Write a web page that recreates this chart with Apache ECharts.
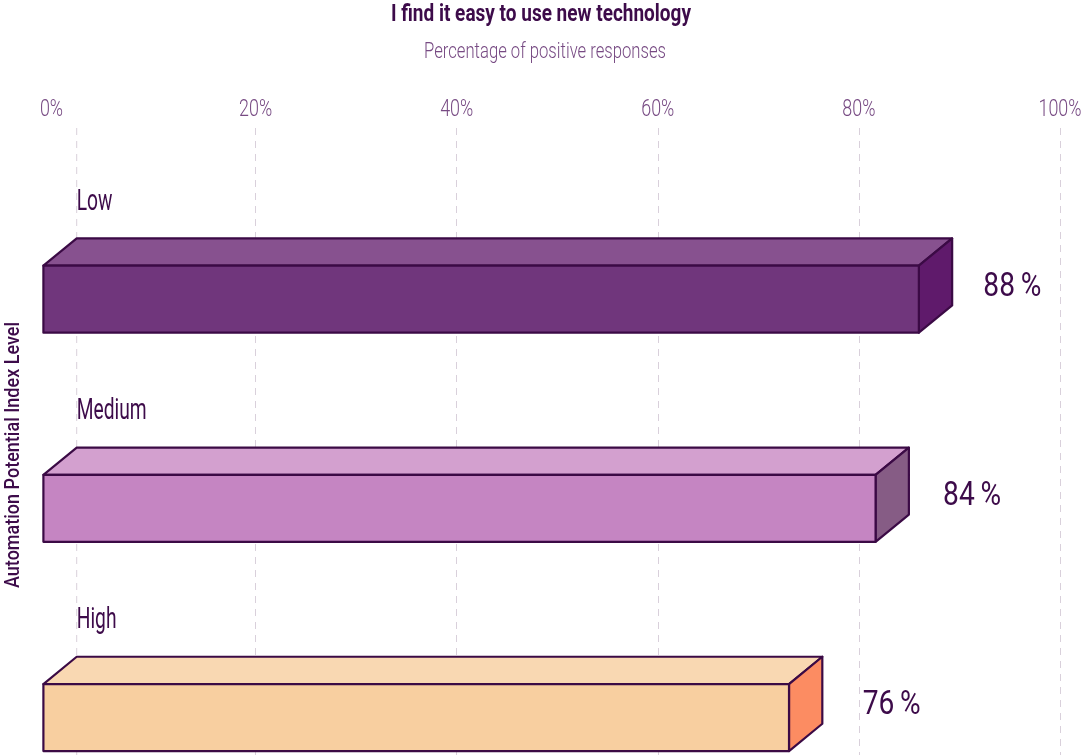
<!DOCTYPE html>
<html>
<head>
<meta charset="utf-8">
<script src="https://cdn.jsdelivr.net/npm/echarts@6/dist/echarts.min.js"></script>
<style>
html,body{margin:0;padding:0;background:#fff;}
#c{width:1082px;height:755px;}
</style>
</head>
<body>
<div id="c"></div>
<script>
// ---- data ----
const categories = ['Low', 'Medium', 'High'];
const values = [88, 84, 76];
const tickValues = [0, 20, 40, 60, 80, 100];
const titleText = 'I find it easy to use new technology';
const subtitleText = 'Percentage of positive responses';
const yAxisTitle = 'Automation Potential Index Level';

// ---- styles ----
const FONT = "Roboto, 'Noto Sans', sans-serif";
const DARK = '#3d0b4a';
const LIGHT = '#774a83';
const STROKE = '#3b0a45';
const GRIDC = '#d9d0db';
const palette = [
  { front: '#70367c', top: '#87518f', side: '#5f1a6b' },
  { front: '#c585c2', top: '#d3a0cf', side: '#865c85' },
  { front: '#f8cfa0', top: '#f9d8b2', side: '#fc8c62' }
];
const DX = 33.3, DY = 27.3, FRONT_H = 67;

// condensed look: horizontal scale so Roboto matches narrow reference lettering
const mctx = document.createElement('canvas').getContext('2d');
function fitScale(text, weight, size, target) {
  mctx.font = weight + ' ' + size + 'px ' + FONT;
  const w = mctx.measureText(text).width;
  return w > 0 ? target / w : 0.75;
}
const S_TITLE = fitScale(titleText, 'bold', 23, 300);
const S_SUB = fitScale(subtitleText, '300', 22.5, 242);
const S_YT = fitScale(yAxisTitle, '500', 21, 266);
const S_TICK = fitScale('100%', '300', 23.5, 43);
const S_CAT = fitScale('Medium', 'normal', 29, 70);
const S_VAL = fitScale('88\u2009%', 'normal', 34, 58);

const chart = echarts.init(document.getElementById('c'), null, { renderer: 'canvas' });

function visX(v) {
  let p;
  try { p = chart.convertToPixel({ xAxisIndex: 0 }, v); } catch (e) { p = NaN; }
  if (typeof p !== 'number' || isNaN(p)) p = 54.5 + v * 10.055;
  return p;
}

const option = {
  animation: false,
  backgroundColor: '#ffffff',
  graphic: [
    {
      type: 'text', x: 541, y: 15, scaleX: S_TITLE,
      style: { text: titleText, fontFamily: FONT, fontSize: 23, fontWeight: 'bold', fill: DARK, align: 'center', verticalAlign: 'middle' }
    },
    {
      type: 'text', x: 545, y: 52, scaleX: S_SUB,
      style: { text: subtitleText, fontFamily: FONT, fontSize: 22.5, fontWeight: 300, fill: LIGHT, align: 'center', verticalAlign: 'middle' }
    },
    {
      type: 'text', x: 14, y: 455, rotation: Math.PI / 2, scaleX: S_YT,
      style: { text: yAxisTitle, fontFamily: FONT, fontSize: 21, fontWeight: 500, fill: DARK, align: 'center', verticalAlign: 'middle' }
    }
  ],
  grid: [
    { left: 54.5, right: 22, top: 128, bottom: 0 },
    { left: 0, right: 0, top: 194.6, bottom: 0 }
  ],
  xAxis: [
    {
      gridIndex: 0, type: 'value', position: 'top', min: 0, max: 100, interval: 20,
      axisLine: { show: false }, axisTick: { show: false }, axisLabel: { show: false },
      splitLine: { show: true, showMinLine: false, lineStyle: { type: [7, 6], color: GRIDC, width: 1 } }
    },
    { gridIndex: 1, type: 'value', min: 0, max: 100, show: false }
  ],
  yAxis: [
    { gridIndex: 0, type: 'value', min: 0, max: 1, show: false },
    // category index axis: one category per 209.2px band, first band centred at 299px
    { gridIndex: 1, type: 'value', inverse: true, min: -0.5, max: 2.179, show: false }
  ],
  series: [
    {
      type: 'custom',
      xAxisIndex: 0, yAxisIndex: 0,
      clip: false,
      silent: true,
      data: tickValues.map(t => [t, 1]),
      renderItem: function (params, api) {
        const t = api.value(0);
        const p = api.coord([t, 1]);
        return {
          type: 'text', x: p[0] - (t === 0 ? 3 : 0), y: 110, scaleX: S_TICK,
          style: { text: t + '%', fontFamily: FONT, fontSize: 23.5, fontWeight: 300, fill: LIGHT, align: 'center', verticalAlign: 'middle' }
        };
      }
    },
    {
      type: 'custom',
      xAxisIndex: 1, yAxisIndex: 1,
      clip: false,
      data: values.map((v, i) => [v, i]),
      encode: { x: 0, y: 1 },
      renderItem: function (params, api) {
        const v = api.value(0);
        const idx = api.value(1);
        const pt = api.coord([v, idx]);
        const backEnd = pt[0];
        const cy = pt[1];
        const backStart = visX(0) + 22.2;
        const frontTop = cy - FRONT_H / 2;
        const frontBottom = cy + FRONT_H / 2;
        const c = palette[idx % palette.length];
        const lw = { stroke: STROKE, lineWidth: 2.2, lineJoin: 'round' };
        const children = [];
        if (params.dataIndex === 0) {
          children.push({
            type: 'line',
            shape: { x1: backStart, y1: 128, x2: backStart, y2: api.getHeight() },
            style: { stroke: GRIDC, lineWidth: 1, lineDash: [7, 6] }
          });
        }
        children.push({
          type: 'text', x: backStart, y: frontTop - 63, scaleX: S_CAT,
          style: { text: categories[idx], fontFamily: FONT, fontSize: 29, fill: DARK, align: 'left', verticalAlign: 'middle' }
        });
        children.push({
          type: 'polygon',
          shape: { points: [[backStart - DX, frontTop], [backStart, frontTop - DY], [backEnd, frontTop - DY], [backEnd - DX, frontTop]] },
          style: Object.assign({ fill: c.top }, lw)
        });
        children.push({
          type: 'polygon',
          shape: { points: [[backEnd - DX, frontTop], [backEnd, frontTop - DY], [backEnd, frontBottom - DY], [backEnd - DX, frontBottom]] },
          style: Object.assign({ fill: c.side }, lw)
        });
        children.push({
          type: 'rect',
          shape: { x: backStart - DX, y: frontTop, width: backEnd - backStart, height: FRONT_H },
          style: Object.assign({ fill: c.front }, lw)
        });
        children.push({
          type: 'text', x: visX(v) + 44, y: cy - 12, scaleX: S_VAL,
          style: { text: v + '\u2009%', fontFamily: FONT, fontSize: 34, fill: DARK, align: 'left', verticalAlign: 'middle' }
        });
        return { type: 'group', children: children };
      }
    }
  ]
};
chart.setOption(option);
</script>
</body>
</html>
